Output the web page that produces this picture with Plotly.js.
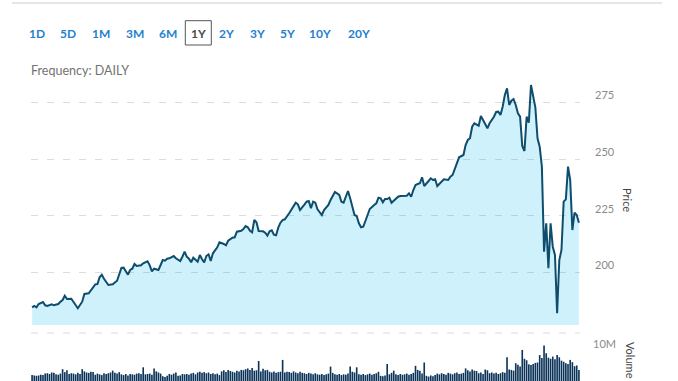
<!DOCTYPE html>
<html>
<head>
<meta charset="utf-8">
<script src="https://cdn.plot.ly/plotly-3.0.1.min.js"></script>
<style>html,body{margin:0;padding:0;background:#fff;}#chart{width:678px;height:381px;}</style>
</head>
<body>
<div id="chart"></div>
<script>
// ---- data ----
const rangeButtons = ["1D","5D","1M","3M","6M","1Y","2Y","3Y","5Y","10Y","20Y"];
const activeButton = "1Y";
const frequencyLabel = "Frequency: DAILY";
const priceTicks = [200, 225, 250, 275];
const volumeTicks = [10];
const volumeTickText = ["10M"];

const priceDays = [0,1,2,3,5,6,7,9,10,12,13,14,15,16,18,19,21,23,24,26,28,29,30,31,32,33,35,37,39,40,
41,42,43,44,45,46,47,48,50,51,53,54,55,56,58,59,60,61,62,63,65,66,68,69,70,71,72,73,74,76,
77,78,79,80,81,82,83,85,86,88,89,90,92,93,94,96,97,98,99,100,101,102,103,104,106,107,108,109,110,111,
112,113,114,115,116,118,119,120,121,122,123,125,126,127,128,129,130,131,133,134,136,137,138,139,141,142,143,144,145,146,
147,148,149,150,151,152,153,154,155,157,158,159,160,161,162,163,164,165,166,168,169,171,172,173,174,175,176,177,178,179,
180,182,183,184,185,186,188,189,191,192,193,194,195,196,198,199,200,201,202,203,205,206,207,208,209,210,211,212,213,214,
215,216,217,218,219,220,221,222,223,224,225,226,227,228,229,230,231,232,233,234,235,236,237,238,239,240,241,242,243,244,
245,246,247,248,249,250,251];

const priceValues = [184.65,185.22,184.65,186.10,186.99,185.53,185.22,185.97,185.53,186.10,187.12,187.87,189.76,188.31,188.44,186.85,184.21,187.12,190.51,190.82,193.47,194.79,194.93,197.88,199.03,197.26,194.49,194.79,196.38,198.76,
201.99,202.12,200.53,199.03,201.10,201.68,203.75,202.87,203.18,204.06,204.94,203.18,200.53,201.68,201.10,203.75,205.51,205.21,206.09,206.26,207.28,206.26,205.07,206.97,209.18,206.97,206.09,204.50,206.53,204.76,
207.72,205.82,204.50,207.28,208.03,205.07,208.47,211.12,213.32,212.57,212.00,214.03,215.35,215.53,218.00,218.44,219.19,220.51,219.94,218.44,217.74,223.16,222.15,218.31,218.18,217.56,216.24,218.18,218.62,216.68,
216.41,219.76,221.97,223.16,223.47,226.12,227.57,228.76,230.79,230.09,227.57,229.91,231.24,231.54,228.32,231.24,230.79,227.88,225.37,227.57,229.78,231.99,234.06,235.52,234.19,231.24,230.79,233.44,235.96,232.74,
228.32,225.37,224.93,221.71,219.94,220.21,222.72,225.81,228.01,229.78,230.53,233.00,232.74,230.97,232.43,232.43,233.00,230.79,231.68,233.44,233.75,233.75,233.88,234.94,233.44,236.40,238.60,239.04,239.35,242.00,
238.16,240.37,241.56,240.81,241.12,238.16,240.06,241.12,240.81,242.26,243.01,245.53,248.88,250.82,251.84,256.25,258.46,259.21,264.32,265.82,264.76,269.04,267.28,265.38,263.62,265.82,267.28,268.74,270.81,270.94,
269.49,273.15,278.31,281.27,273.90,275.79,276.54,273.90,270.24,268.74,255.81,253.60,268.74,266.09,282.72,278.31,272.88,259.21,255.50,246.68,209.18,221.71,201.85,221.71,211.38,207.72,182.00,205.51,209.93,231.24,
232.29,246.68,240.81,218.75,226.38,225.37,221.97];

// daily volume, millions of shares
const volumeValues = [1.6,1.5,1.4,1.5,1.7,1.6,2.0,2.1,1.9,2.3,2.2,1.8,1.7,2.0,3.2,2.4,2.9,1.9,2.1,2.0,
1.8,2.2,1.9,3.2,2.6,2.3,2.2,2.5,2.4,1.7,2.0,1.8,1.6,2.1,1.9,2.1,2.3,2.8,2.2,2.0,
2.4,1.8,1.6,1.9,1.5,1.9,1.8,1.7,2.0,2.1,1.9,3.7,1.8,1.9,2.0,1.7,3.4,2.6,2.3,2.0,
1.3,1.1,1.4,1.9,1.7,2.0,2.3,1.4,1.5,1.9,1.8,1.9,1.7,2.0,2.2,1.8,2.3,2.5,2.2,2.4,
2.1,2.3,1.9,2.1,1.8,2.0,1.6,2.6,2.9,2.4,3.0,2.7,2.5,2.3,2.8,2.6,3.0,2.9,3.2,3.4,
3.0,3.5,2.8,2.9,5.4,2.6,3.3,2.9,3.0,2.5,2.3,2.6,2.2,2.4,2.5,5.7,2.3,2.5,2.4,2.2,
2.6,2.3,2.1,2.5,2.2,2.1,1.9,2.2,2.0,1.8,2.1,1.8,1.7,1.9,1.6,1.8,2.0,3.9,2.2,1.8,
1.7,1.9,1.6,1.8,1.7,2.0,3.9,2.5,2.3,3.7,1.8,1.7,1.9,1.6,1.8,2.0,1.7,1.9,2.1,2.5,
1.4,1.3,1.5,4.6,1.8,2.2,2.8,1.8,1.6,1.9,1.7,1.8,2.0,1.7,1.9,2.2,4.1,3.0,2.8,2.0,
5.0,1.4,1.2,1.5,1.3,1.6,2.0,1.8,2.1,1.9,1.7,2.2,2.0,1.8,2.1,2.3,1.9,2.0,2.2,3.4,
2.9,2.6,3.1,2.8,2.7,2.1,2.3,1.9,3.1,2.9,2.1,2.3,2.0,2.2,1.9,2.1,2.4,2.2,6.4,3.1,
3.0,2.8,4.8,4.4,3.9,8.4,6.0,5.6,4.5,4.3,4.6,4.9,5.0,7.0,6.2,9.6,7.5,6.3,6.0,6.6,
5.9,7.0,6.4,5.5,5.2,4.8,4.6,5.7,5.1,4.0,4.2,3.0];

// ---- layout helpers (pixel -> paper) ----
const L = 31, T = 77, W = 549, H = 304;
const px = x => (x - L) / W;
const py = y => (T + H - y) / H;

const FONT = "Lato, 'Open Sans', sans-serif";
const gridDash = "7px,9px";

const priceTrace = {
  x: priceDays, y: priceValues, type: "scatter", mode: "lines",
  xaxis: "x", yaxis: "y",
  line: {color: "#0f4d6d", width: 2, shape: "linear"},
  fill: "tozeroy", fillcolor: "rgba(0,180,240,0.19)",
  hoverinfo: "skip"
};
const volumeTrace = {
  y: volumeValues, type: "bar", xaxis: "x", yaxis: "y2",
  marker: {color: "#0c3459", line: {width: 0}},
  hoverinfo: "skip"
};

const btnX = [36.7, 68.3, 100.8, 134.5, 168.3, 198.3, 226.7, 257.5, 287.5, 320.3, 358.8];
const annotations = rangeButtons.map((b, i) => ({
  text: b, x: px(btnX[i]), y: py(34), xref: "paper", yref: "paper",
  xanchor: "center", yanchor: "middle", showarrow: false,
  font: {family: FONT, size: 12, weight: "bold", color: b === activeButton ? "#4a4a4a" : "#1f80d0"}
}));
annotations.push({
  text: frequencyLabel, x: px(28.5), y: py(70), xref: "paper", yref: "paper",
  xanchor: "left", yanchor: "middle", showarrow: false,
  font: {family: FONT, size: 12.5, color: "#727272"}
});
annotations.push({
  text: "Price", x: px(628), y: py(200), xref: "paper", yref: "paper",
  xanchor: "center", yanchor: "middle", showarrow: false, textangle: 90,
  font: {family: FONT, size: 11, color: "#444"}
});
annotations.push({
  text: "Volume", x: px(631), y: py(360), xref: "paper", yref: "paper",
  xanchor: "center", yanchor: "middle", showarrow: false, textangle: 90,
  font: {family: FONT, size: 11, color: "#444"}
});

const shapes = [
  {type: "rect", xref: "paper", yref: "paper", x0: px(185.3), x1: px(211.3), y0: py(45), y1: py(20.7),
   line: {color: "#555", width: 1}, fillcolor: "rgba(0,0,0,0)"},
  {type: "line", xref: "paper", yref: "paper", x0: px(12), x1: px(662), y0: py(3), y1: py(3),
   line: {color: "#e6e6e6", width: 2}},
  {type: "line", xref: "paper", yref: "paper", x0: 0, x1: 1, y0: py(333), y1: py(333),
   line: {color: "#dddddd", width: 1, dash: gridDash}}
];

const layout = {
  width: 678, height: 381,
  margin: {l: L, r: 678 - L - W, t: T, b: 381 - T - H, pad: 0},
  paper_bgcolor: "#fff", plot_bgcolor: "rgba(0,0,0,0)",
  showlegend: false, bargap: 0.25,
  font: {family: FONT},
  xaxis: {range: [-0.5, volumeValues.length - 0.5], visible: false, fixedrange: true},
  yaxis: {
    domain: [py(325), 1], range: [176.84, 286.25], side: "right",
    tickvals: priceTicks, showgrid: true, gridcolor: "#dddddd", griddash: gridDash, gridwidth: 1,
    zeroline: false, showline: false, ticks: "",
    tickfont: {family: FONT, size: 11, color: "#8a8a8a"},
    ticklabelshift: -7, ticklabelstandoff: 14
  },
  yaxis2: {
    domain: [0, py(333)], range: [0, 12.97], side: "right",
    tickvals: volumeTicks, ticktext: volumeTickText, showgrid: false,
    zeroline: false, showline: false, ticks: "",
    tickfont: {family: FONT, size: 11, color: "#8a8a8a"},
    ticklabelstandoff: 12
  },
  annotations: annotations,
  shapes: shapes
};

Plotly.newPlot("chart", [priceTrace, volumeTrace], layout, {displayModeBar: false, staticPlot: true});
</script>
</body>
</html>
